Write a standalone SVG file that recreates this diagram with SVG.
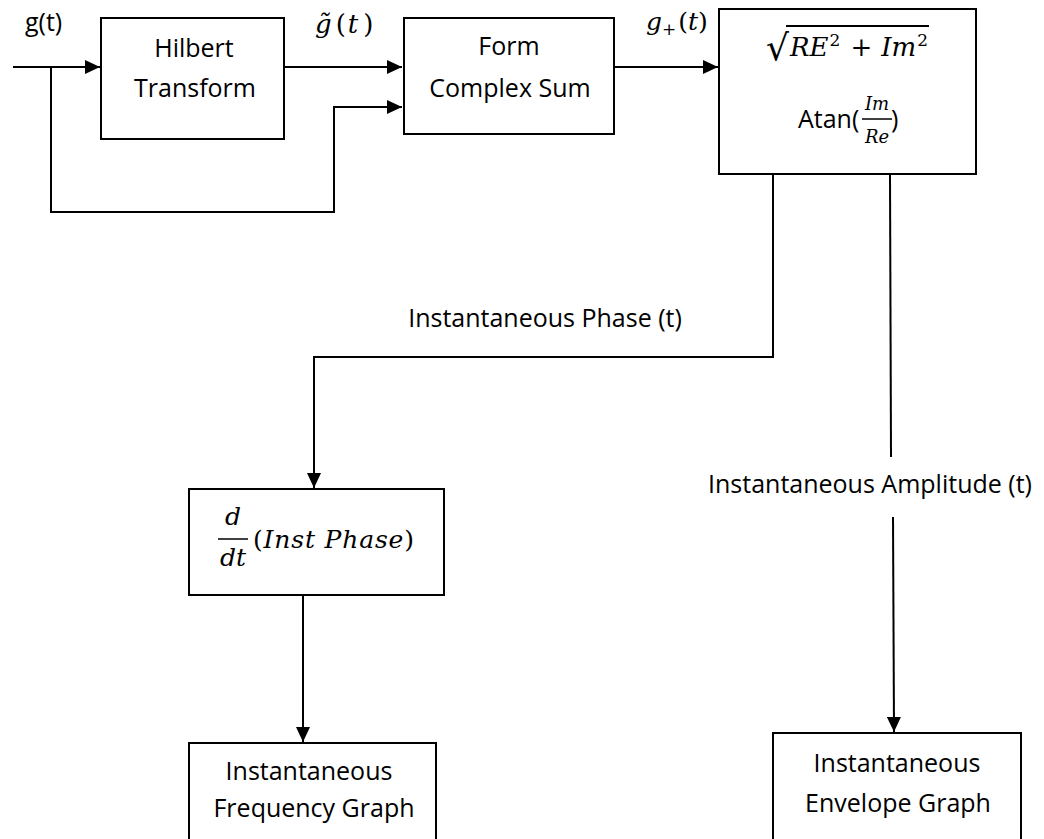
<svg xmlns="http://www.w3.org/2000/svg" width="1044" height="839" viewBox="0 0 1044 839">
<style>
.box{fill:#fff;stroke:#000;stroke-width:2}
.ln{fill:none;stroke:#000;stroke-width:2}
.lbl{font-family:"Open Sans","Liberation Sans",sans-serif;font-size:25px;fill:#000}
.c{text-anchor:middle}
.m{font-family:"DejaVu Serif","Liberation Serif",serif;font-style:italic;fill:#000}
.mu{font-family:"DejaVu Serif","Liberation Serif",serif;font-style:normal;fill:#000}
</style>
<defs>
<marker id="ah" markerUnits="userSpaceOnUse" markerWidth="16" markerHeight="14" refX="15" refY="7" orient="auto">
<path d="M0,0 L15,7 L0,14 z" fill="#000"/>
</marker>
</defs>
<rect width="1044" height="839" fill="#fff"/>
<g id="connectors">
<path class="ln" d="M13,67 H100" marker-end="url(#ah)"/>
<path class="ln" d="M51,67 V212 H334 V107 H402" marker-end="url(#ah)"/>
<path class="ln" d="M284,67 H402" marker-end="url(#ah)"/>
<path class="ln" d="M614,67 H718" marker-end="url(#ah)"/>
<path class="ln" d="M773,174 V357 H314 V488" marker-end="url(#ah)"/>
<path class="ln" d="M890,174 L891,457"/>
<path class="ln" d="M893,517 L894,732" marker-end="url(#ah)"/>
<path class="ln" d="M303,595 V742" marker-end="url(#ah)"/>
</g>
<g id="labels">
<text class="lbl" x="25" y="31">g(t)</text>
<text class="m" x="315" y="33" font-size="26">g&#771;<tspan class="mu" dx="4">(</tspan><tspan dx="2">t</tspan><tspan class="mu" dx="5">)</tspan></text>
<text class="m" x="646" y="30" font-size="25">g<tspan class="mu" font-size="17" dy="5">+</tspan><tspan class="mu" dy="-5" dx="2">(</tspan>t<tspan class="mu">)</tspan></text>
<text class="lbl c" x="545" y="327">Instantaneous Phase (t)</text>
<text class="lbl c" x="870" y="493">Instantaneous Amplitude (t)</text>
</g>
<g id="hilbert">
<rect class="box" x="101" y="18" width="183" height="121"/>
<text class="lbl c" x="194" y="57">Hilbert</text>
<text class="lbl c" x="195" y="97">Transform</text>
</g>
<g id="complex-sum">
<rect class="box" x="404" y="18" width="210" height="116"/>
<text class="lbl c" x="509" y="55">Form</text>
<text class="lbl c" x="510" y="97">Complex Sum</text>
</g>
<g id="magnitude-phase">
<rect class="box" x="719" y="9" width="257" height="165"/>
<text class="mu" x="766" y="60" font-size="36">&#8730;</text>
<line x1="786" y1="26" x2="929" y2="26" stroke="#000" stroke-width="2"/>
<text class="m" x="790" y="56" font-size="26">RE<tspan class="mu" font-size="17" dy="-10" dx="1">2</tspan><tspan class="mu" dy="10" dx="10">+</tspan><tspan dx="9">Im</tspan><tspan class="mu" font-size="17" dy="-10" dx="1">2</tspan></text>
<text class="lbl" x="798" y="128">Atan(</text>
<text class="m c" x="877" y="110" font-size="18">Im</text>
<line x1="862" y1="119" x2="892" y2="119" stroke="#000" stroke-width="1.5"/>
<text class="m c" x="877" y="143" font-size="18">Re</text>
<text class="lbl" x="891" y="128">)</text>
</g>
<g id="derivative">
<rect class="box" x="189" y="489" width="255" height="106"/>
<text class="m c" x="233" y="525" font-size="25">d</text>
<line x1="218" y1="539" x2="248" y2="539" stroke="#000" stroke-width="1.5"/>
<text class="m c" x="233" y="566" font-size="25">dt</text>
<text class="m" x="253" y="548" font-size="25" textLength="161" lengthAdjust="spacing"><tspan class="mu">(</tspan>Inst Phase<tspan class="mu">)</tspan></text>
</g>
<g id="frequency-graph">
<rect class="box" x="189" y="743" width="247" height="110"/>
<text class="lbl c" x="309" y="780">Instantaneous</text>
<text class="lbl c" x="314" y="817">Frequency Graph</text>
</g>
<g id="envelope-graph">
<rect class="box" x="773" y="733" width="248" height="120"/>
<text class="lbl c" x="897" y="772">Instantaneous</text>
<text class="lbl c" x="898" y="812">Envelope Graph</text>
</g>
</svg>
